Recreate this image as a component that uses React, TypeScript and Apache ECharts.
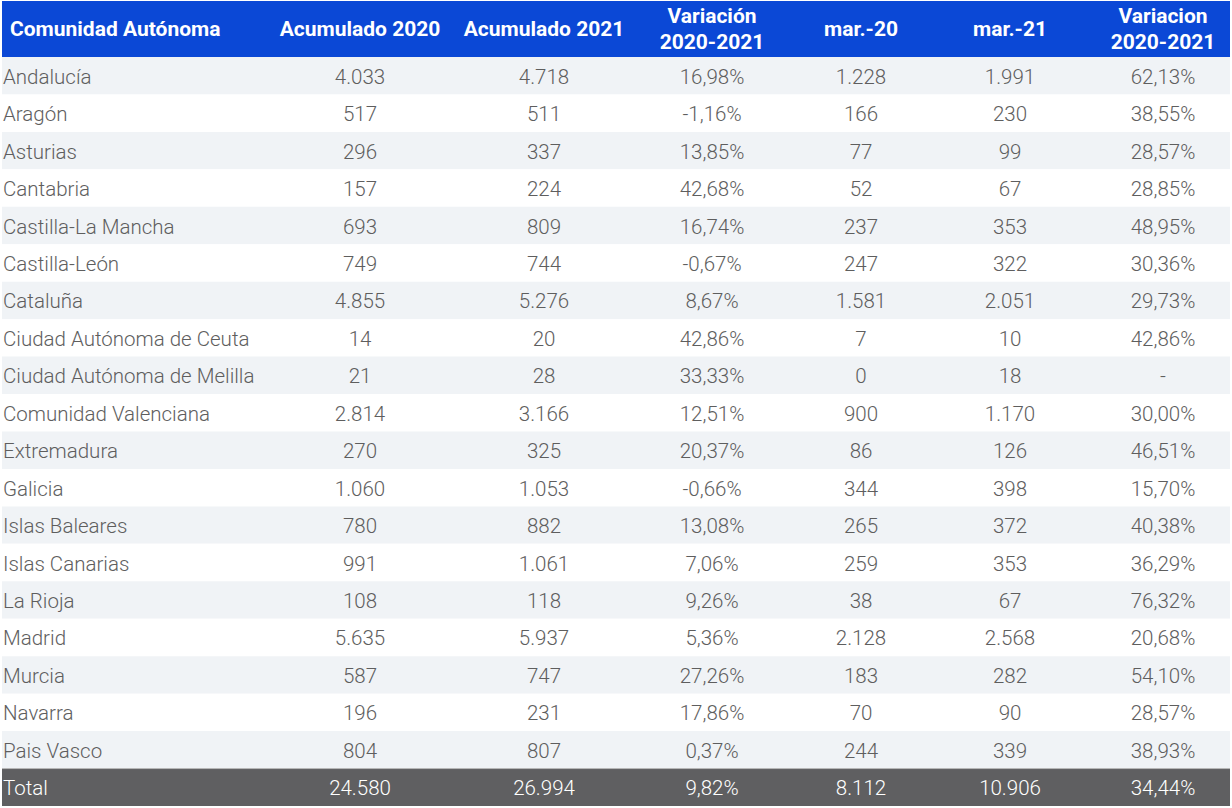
import React, { useEffect, useRef } from "react";
import * as echarts from "echarts";

const headers = [
  "Comunidad Autónoma",
  "Acumulado 2020",
  "Acumulado 2021",
  "Variación\n2020-2021",
  "mar.-20",
  "mar.-21",
  "Variacion\n2020-2021",
];

const regions = [
  "Andalucía", "Aragón", "Asturias", "Cantabria", "Castilla-La Mancha", "Castilla-León",
  "Cataluña", "Ciudad Autónoma de Ceuta", "Ciudad Autónoma de Melilla", "Comunidad Valenciana",
  "Extremadura", "Galicia", "Islas Baleares", "Islas Canarias", "La Rioja", "Madrid",
  "Murcia", "Navarra", "Pais Vasco", "Total",
];
const acum2020 = [4033, 517, 296, 157, 693, 749, 4855, 14, 21, 2814, 270, 1060, 780, 991, 108, 5635, 587, 196, 804, 24580];
const acum2021 = [4718, 511, 337, 224, 809, 744, 5276, 20, 28, 3166, 325, 1053, 882, 1061, 118, 5937, 747, 231, 807, 26994];
const varAcum = [16.98, -1.16, 13.85, 42.68, 16.74, -0.67, 8.67, 42.86, 33.33, 12.51, 20.37, -0.66, 13.08, 7.06, 9.26, 5.36, 27.26, 17.86, 0.37, 9.82];
const mar20 = [1228, 166, 77, 52, 237, 247, 1581, 7, 0, 900, 86, 344, 265, 259, 38, 2128, 183, 70, 244, 8112];
const mar21 = [1991, 230, 99, 67, 353, 322, 2051, 10, 18, 1170, 126, 398, 372, 353, 67, 2568, 282, 90, 339, 10906];
const varMar: (number | null)[] = [62.13, 38.55, 28.57, 28.85, 48.95, 30.36, 29.73, 42.86, null, 30.0, 46.51, 15.7, 40.38, 36.29, 76.32, 20.68, 54.1, 28.57, 38.93, 34.44];

const fmtInt = (v: number) => String(v).replace(/\B(?=(\d{3})+(?!\d))/g, ".");
const fmtPct = (v: number | null) => (v === null ? "-" : v.toFixed(2).replace(".", ",") + "%");

const colCenters = [360, 544, 712, 861, 1010, 1163];
const FONT = "Roboto";

export default function App() {
  const ref = useRef<HTMLDivElement>(null);
  useEffect(() => {
    document.body.style.margin = "0";
    const chart = echarts.init(ref.current!, null, { renderer: "svg" });
    const last = regions.length - 1;
    const headerTexts: any[] = headers.map((h, i) => ({
      type: "text",
      x: i === 0 ? 10 : colCenters[i - 1],
      y: 29,
      style: {
        text: h,
        fill: "#ffffff",
        fontWeight: "bold",
        fontFamily: FONT,
        fontSize: 21,
        align: i === 0 ? "left" : "center",
        verticalAlign: "middle",
        lineHeight: 26,
      },
    }));
    chart.setOption({
      animation: false,
      grid: { left: 2, right: 2, top: 57, bottom: 2 },
      xAxis: { type: "value", min: 0, max: 1, show: false },
      yAxis: {
        type: "category",
        inverse: true,
        data: regions,
        show: false,
      },
      graphic: [
        { type: "rect", shape: { x: 2, y: 1, width: 1228, height: 56 }, style: { fill: "#0B48D6" } },
        ...headerTexts,
      ],
      series: [
        {
          type: "custom",
          data: regions.map((_, i) => [0, i]),
          encode: { x: 0, y: 1 },
          renderItem: (params: any, api: any) => {
            const idx = api.value(1);
            const cy = api.coord([0, idx])[1];
            const h = api.size([0, 1])[1];
            const cs = params.coordSys;
            const isTotal = idx === last;
            const fill = isTotal ? "#5F5F61" : idx % 2 === 0 ? "#F0F3F6" : "#ffffff";
            const color = isTotal ? "#ffffff" : "#5E5E5E";
            const cells = [
              fmtInt(acum2020[idx]),
              fmtInt(acum2021[idx]),
              fmtPct(varAcum[idx]),
              fmtInt(mar20[idx]),
              fmtInt(mar21[idx]),
              fmtPct(varMar[idx]),
            ];
            const textStyle = (t: string, align: string) => ({
              text: t,
              fill: color,
              fontFamily: FONT,
              fontSize: 20.5,
              fontWeight: 300,
              align,
              verticalAlign: "middle",
            });
            const children: any[] = [
              { type: "rect", shape: { x: cs.x, y: cy - h / 2, width: cs.width, height: h }, style: { fill } },
              { type: "text", x: 3, y: cy + 1, style: textStyle(regions[idx], "left") },
              ...cells.map((c, i) => ({ type: "text", x: colCenters[i], y: cy + 1, style: textStyle(c, "center") })),
            ];
            if (isTotal) {
              children.push({
                type: "line",
                shape: { x1: cs.x, y1: cy - h / 2, x2: cs.x + cs.width, y2: cy - h / 2 },
                style: { stroke: "#B8B8B8", lineWidth: 1 },
              });
            }
            return { type: "group", children };
          },
        },
      ],
    });
    return () => chart.dispose();
  }, []);
  return <div ref={ref} style={{ width: 1232, height: 808 }} />;
}
